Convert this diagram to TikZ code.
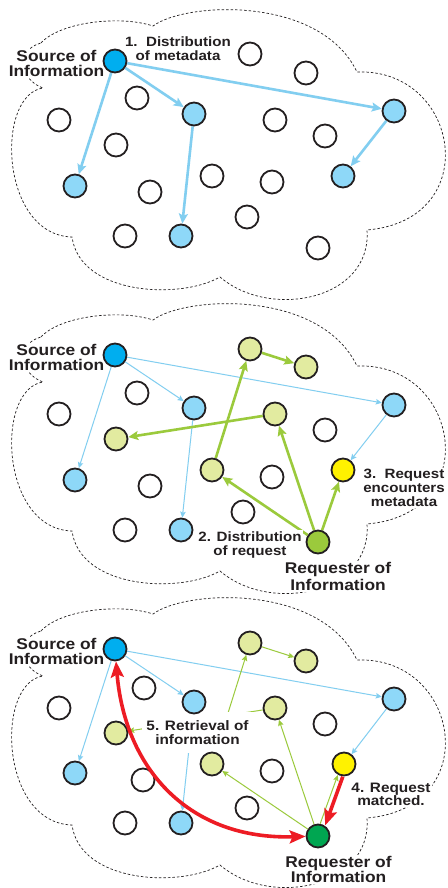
\documentclass[tikz,border=0pt]{standalone}
\usepackage{fontspec}
\newfontfamily\lf{Liberation Sans}[FakeStretch=1.12]
\usetikzlibrary{arrows.meta}
\pgfdeclarelayer{cl}\pgfdeclarelayer{arr}\pgfdeclarelayer{box}\pgfdeclarelayer{front}
\pgfsetlayers{cl,arr,box,main,front}
\definecolor{srcb}{RGB}{0,174,239}
\definecolor{lblue}{RGB}{142,216,248}
\definecolor{barr}{RGB}{130,206,240}
\definecolor{lgrn}{RGB}{226,235,160}
\definecolor{garr}{RGB}{155,202,60}
\definecolor{dgrn}{RGB}{0,166,81}
\definecolor{yel}{RGB}{255,242,0}
\definecolor{redc}{RGB}{237,28,36}
\definecolor{outl}{RGB}{35,31,32}
\definecolor{txt}{RGB}{35,31,32}
\tikzset{
  circ/.style={circle, draw=outl, line width=1.8bp, minimum size=23bp, inner sep=0pt},
  wn/.style={circ, fill=white},
  bn/.style={circ, fill=lblue},
  sn/.style={circ, fill=srcb},
  gn/.style={circ, fill=lgrn},
  yn/.style={circ, fill=yel},
  rqa/.style={circ, fill=garr},
  rqb/.style={circ, fill=dgrn},
  cloudline/.style={draw=outl, line width=0.7bp, dash pattern=on 2.5bp off 2bp},
  bthick/.style={draw=barr, line width=2.6bp, -{Stealth[length=10bp,width=9bp,inset=2bp]}},
  bthin/.style={draw=barr, line width=1bp, -{Stealth[length=6bp,width=5.5bp,inset=1bp]}},
  gthick/.style={draw=garr, line width=2.6bp, -{Stealth[length=10bp,width=9bp,inset=2bp]}},
  gthin/.style={draw=garr, line width=1bp, -{Stealth[length=6bp,width=5.5bp,inset=1bp]}},
  rthick/.style={draw=redc, line width=3.6bp, -{Stealth[length=16bp,width=13bp,inset=3bp]}},
  rboth/.style={draw=redc, line width=3.6bp, {Stealth[length=16bp,width=13bp,inset=3bp]}-{Stealth[length=16bp,width=13bp,inset=3bp]}},
  lab/.style={font={\lf\bfseries\fontsize{13.5bp}{14bp}\selectfont}, align=center, fill=white, inner sep=1.5bp, text=txt, anchor=base},
  slab/.style={lab, font={\lf\bfseries\fontsize{15.5bp}{15bp}\selectfont}},
}
\begin{document}
\begin{tikzpicture}[x=1bp,y=-1bp]
\useasboundingbox (0,0) rectangle (448,888);
\begin{pgfonlayer}{cl}
\fill[white] (0,0) rectangle (448,888);
\foreach \dy in {0,294,588}{
\draw[cloudline, shift={(0,\dy)}] (41,43) .. controls (60,22) and (120,15) .. (153,26)
  .. controls (185,2) and (320,-5) .. (357,72)
  .. controls (460,68) and (485,220) .. (367,230)
  .. controls (372,300) and (270,320) .. (220,277)
  .. controls (180,300) and (80,295) .. (72,237)
  .. controls (0,235) and (-5,95) .. (43,88)
  .. controls (20,80) and (15,50) .. (41,43) -- cycle;
}
\end{pgfonlayer}

% ---------- panel 1 ----------
\node[sn] (s1) at (115,61) {};
\node[wn] (a1) at (250,54) {};
\node[wn] (b1) at (306,73) {};
\node[wn] (c1) at (137,98) {};
\node[bn] (d1) at (194,114) {};
\node[bn] (e1) at (394,111) {};
\node[wn] (f1) at (59,120) {};
\node[wn] (g1) at (275,120) {};
\node[wn] (h1) at (325,136) {};
\node[wn] (i1) at (116,145) {};
\node[bn] (j1) at (343,176) {};
\node[wn] (k1) at (212,176) {};
\node[wn] (l1) at (272,182) {};
\node[bn] (m1) at (75,186) {};
\node[wn] (n1) at (150,192) {};
\node[wn] (o1) at (247,217) {};
\node[wn] (p1) at (125,236) {};
\node[bn] (q1) at (181,236) {};
\node[wn] (r1) at (318,248) {};

% ---------- panel 2 ----------
\node[sn] (s2) at (115,355) {};
\node[gn] (a2) at (250,349) {};
\node[gn] (b2) at (306,367) {};
\node[wn] (c2) at (137,393) {};
\node[bn] (d2) at (194,408) {};
\node[bn] (e2) at (394,405) {};
\node[wn] (f2) at (59,414) {};
\node[gn] (g2) at (275,414) {};
\node[wn] (h2) at (325,430) {};
\node[gn] (i2) at (116,439) {};
\node[yn] (j2) at (343,470) {};
\node[gn] (k2) at (212,470) {};
\node[wn] (l2) at (272,477) {};
\node[bn] (m2) at (75,480) {};
\node[wn] (n2) at (150,486) {};
\node[wn] (o2) at (243,512) {};
\node[wn] (p2) at (125,530) {};
\node[bn] (q2) at (181,530) {};
\node[rqa] (r2) at (318,542) {};

% ---------- panel 3 ----------
\node[sn] (s3) at (115,649) {};
\node[gn] (a3) at (250,643) {};
\node[gn] (b3) at (306,661) {};
\node[wn] (c3) at (144,688) {};
\node[bn] (d3) at (194,702) {};
\node[bn] (e3) at (394,699) {};
\node[wn] (f3) at (59,708) {};
\node[gn] (g3) at (275,708) {};
\node[wn] (h3) at (325,724) {};
\node[gn] (i3) at (116,733) {};
\node[yn] (j3) at (344,764) {};
\node[gn] (k3) at (212,764) {};
\node[wn] (l3) at (272,771) {};
\node[bn] (m3) at (75,773) {};
\node[wn] (n3) at (143,780) {};
\node[wn] (o3) at (247,808) {};
\node[wn] (p3) at (125,823) {};
\node[bn] (q3) at (181,823) {};
\node[rqb] (r3) at (318,836) {};

\begin{pgfonlayer}{arr}
% panel 1
\draw[bthick] (s1) -- (m1);
\draw[bthick] (s1) -- (d1);
\draw[bthick] (s1) -- (e1);
\draw[bthick] (d1) -- (q1);
\draw[bthick] (e1) -- (j1);
% panel 2
\draw[bthin] (s2) -- (m2);
\draw[bthin] (s2) -- (d2);
\draw[bthin] (s2) -- (e2);
\draw[bthin] (d2) -- (q2);
\draw[bthin] (e2) -- (j2);
\draw[gthick] (r2) -- (k2);
\draw[gthick] (r2) -- (g2);
\draw[gthick] (r2) -- (j2);
\draw[gthick] (k2) -- (a2);
\draw[gthick] (a2) -- (b2);
\draw[gthick] (g2) -- (i2);
% panel 3
\draw[bthin] (s3) -- (m3);
\draw[bthin] (s3) -- (d3);
\draw[bthin] (s3) -- (e3);
\draw[bthin] (d3) -- (q3);
\draw[bthin] (e3) -- (j3);
\draw[gthin] (r3) -- (k3);
\draw[gthin] (r3) -- (g3);
\draw[gthin, transform canvas={shift={(-2bp,0.7bp)}}] (r3) -- (j3);
\draw[gthin] (k3) -- (a3);
\draw[gthin] (a3) -- (b3);
\draw[gthin] (g3) -- (i3);
\end{pgfonlayer}

\begin{pgfonlayer}{box}
\node[slab] (src1) at (56.5,76.7) {Source of\\Information};
\node[lab] (t1) at (178,60) {1.~~Distribution\\of metadata};
\node[slab] (src2) at (56.5,370.7) {Source of\\Information};
\node[lab, font={\lf\bfseries\fontsize{13.5bp}{13.5bp}\selectfont}] (t2) at (250,555.2) {2. Distribution\\of request};
\node[slab, font={\lf\bfseries\fontsize{15.5bp}{16.5bp}\selectfont}] (req2) at (338,590) {Requester of\\Information};
\node[lab] (t3) at (404,506.7) {3.~~Request\\encounters\\metadata};
\node[slab] (src3) at (56.5,664.7) {Source of\\Information};
\node[slab] (req3) at (338.5,882.5) {Requester of\\Information};
\node[lab, font={\lf\bfseries\fontsize{13.7bp}{13bp}\selectfont}] (t4) at (391,805) {4. Request\\matched.};
\node[lab, font={\lf\bfseries\fontsize{13.7bp}{14bp}\selectfont}, inner xsep=4bp, inner ysep=8.5bp] (t5) at (197.5,744) {5. Retrieval of\\information};
\end{pgfonlayer}

\begin{pgfonlayer}{front}
\draw[rthick, transform canvas={shift={(3bp,-1bp)}}] (j3) -- (r3);
\draw[rboth] (s3) .. controls (125,770) and (190,840) .. (r3);
\end{pgfonlayer}
\end{tikzpicture}
\end{document}
